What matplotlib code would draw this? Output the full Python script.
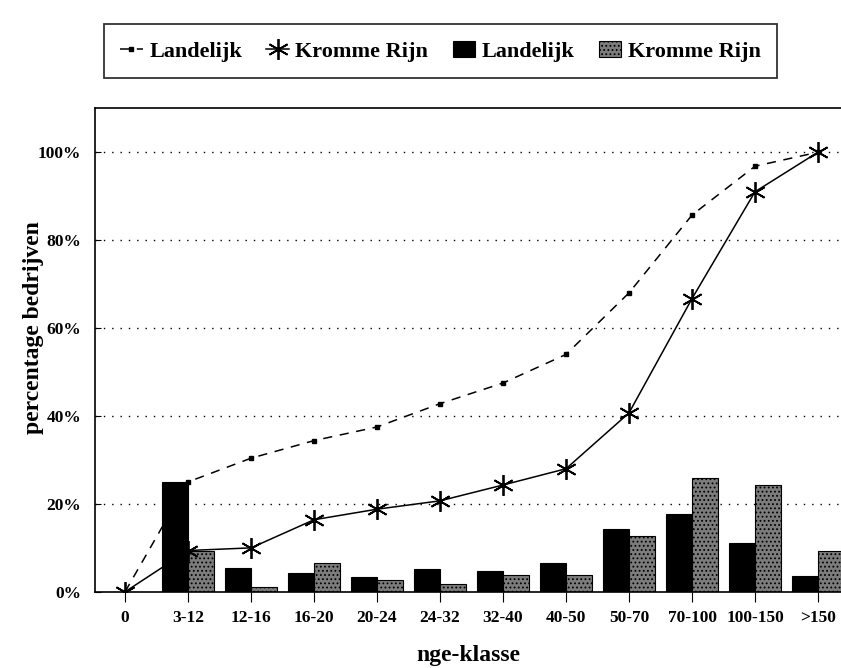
import matplotlib
matplotlib.use("Agg")
import matplotlib.pyplot as plt
import numpy as np

# nge classes and percentages
klassen = ["0", "3-12", "12-16", "16-20", "20-24", "24-32", "32-40",
           "40-50", "50-70", "70-100", "100-150", ">150"]
bar_landelijk = [24.9, 5.5, 4.2, 3.3, 5.3, 4.8, 6.6, 14.2, 17.8, 11.2, 3.6]
bar_kromme = [9.4, 1.2, 6.6, 2.7, 1.7, 3.8, 3.8, 12.6, 26.0, 24.3, 9.2]
cum_landelijk = [0, 25.0, 30.4, 34.4, 37.5, 42.8, 47.5, 54.0, 68.0, 85.7, 96.8, 100]
cum_kromme = [0, 9.4, 10.0, 16.4, 18.8, 20.7, 24.3, 28.0, 40.7, 66.7, 91.0, 100]
yticks = [0, 20, 40, 60, 80, 100]

plt.rcParams['font.family'] = ['Liberation Serif', 'DejaVu Serif']
plt.rcParams['font.weight'] = 'bold'
plt.rcParams['hatch.color'] = '#e8e8e8'
plt.rcParams['hatch.linewidth'] = 0.8

fig = plt.figure(figsize=(8.41, 6.68), dpi=100)
ax = fig.add_axes([0.113, 0.114, 0.887, 0.724])

x = np.arange(len(klassen))
xb = x[1:]
w = 0.42

l1, = ax.plot(x, cum_landelijk, color="black", linestyle=(0, (6, 5)), linewidth=1.1,
              marker="s", markersize=3.5, label="Landelijk", zorder=3)
l2, = ax.plot(x, cum_kromme, color="black", linestyle="-", linewidth=1.1,
              marker=(6, 2, 0), markersize=15, markeredgewidth=1.3,
              label="Kromme Rijn", zorder=3)

ax.bar(xb - w / 2, bar_landelijk, width=w, color="black", edgecolor="black",
       linewidth=0.8, label="Landelijk", zorder=2)
ax.bar(xb + w / 2, bar_kromme, width=w, color="#7c7c7c", edgecolor="black",
       linewidth=0.8, hatch="....", label="Kromme Rijn", zorder=2)

ax.set_xlim(-0.476, 11.365)
ax.set_ylim(0, 110)
ax.set_yticks(yticks)
ax.set_yticklabels(["%d%%" % v for v in yticks], fontsize=12.5, fontweight="bold")
ax.set_xticks(x)
ax.set_xticklabels(klassen, fontsize=12.5, fontweight="bold")
for v in yticks[1:]:
    ax.axhline(v, color="black", linestyle=(0, (1, 5)), linewidth=1, zorder=1)

ax.tick_params(axis="y", direction="in", length=4, pad=10)
ax.tick_params(axis="x", direction="out", length=7, pad=6)
ax.spines["right"].set_visible(False)
for s in ["left", "top", "bottom"]:
    ax.spines[s].set_linewidth(1.2)

ax.set_ylabel("percentage bedrijven", fontsize=17, fontweight="bold")
ax.yaxis.set_label_coords(-0.068, 0.547)
ax.set_xlabel("nge-klasse", fontsize=17, fontweight="bold", labelpad=14)

handles, labels = ax.get_legend_handles_labels()
leg = fig.legend(handles, labels,
                 loc="upper left", bbox_to_anchor=(0.11, 0.98), ncol=4,
                 frameon=True, fancybox=False, handlelength=1.0,
                 handletextpad=0.3, columnspacing=1.1, borderpad=0.75,
                 prop={"size": 16, "weight": "bold"})
leg.get_frame().set_edgecolor("black")
leg.get_frame().set_linewidth(1.3)

fig.savefig("out.png", dpi=100)
